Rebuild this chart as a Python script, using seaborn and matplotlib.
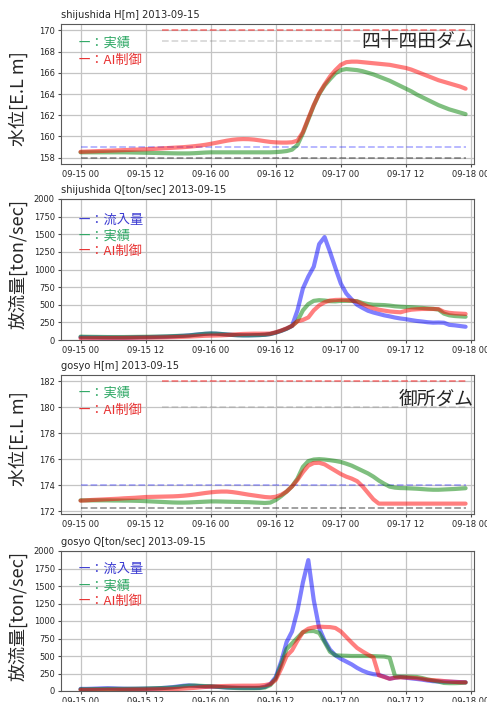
import pandas as pd
import matplotlib
matplotlib.use("Agg")
import matplotlib.pyplot as plt
import matplotlib.dates as mdates
import seaborn as sns

# hourly data, 2013-09-15 00:00 .. 2013-09-17 23:00
times = pd.date_range("2013-09-15 00:00", periods=72, freq="h")

shiju_h_actual = [
    158.50, 158.50, 158.50, 158.50, 158.50, 158.50, 158.50, 158.50, 158.50, 158.49, 158.48, 158.47,
    158.46, 158.45, 158.44, 158.43, 158.42, 158.41, 158.40, 158.40, 158.40, 158.42, 158.45, 158.48,
    158.50, 158.50, 158.50, 158.50, 158.50, 158.50, 158.50, 158.50, 158.50, 158.50, 158.50, 158.50,
    158.52, 158.56, 158.62, 158.75, 159.20, 160.30, 161.60, 162.90, 164.00, 164.80, 165.40, 165.95,
    166.25, 166.35, 166.30, 166.25, 166.15, 166.00, 165.85, 165.65, 165.45, 165.25, 165.00, 164.75,
    164.50, 164.25, 163.95, 163.70, 163.45, 163.20, 162.95, 162.75, 162.55, 162.40, 162.25, 162.10,
]
shiju_h_ai = [
    158.55, 158.57, 158.59, 158.61, 158.63, 158.65, 158.67, 158.69, 158.71, 158.73, 158.75, 158.77,
    158.79, 158.81, 158.84, 158.87, 158.90, 158.93, 158.96, 158.99, 159.03, 159.08, 159.14, 159.21,
    159.30, 159.40, 159.50, 159.60, 159.68, 159.73, 159.75, 159.74, 159.70, 159.63, 159.55, 159.48,
    159.44, 159.42, 159.42, 159.45, 159.60, 160.40, 161.70, 162.95, 164.05, 164.90, 165.65, 166.25,
    166.75, 167.00, 167.05, 167.05, 167.00, 166.95, 166.90, 166.85, 166.80, 166.75, 166.65, 166.55,
    166.45, 166.30, 166.10, 165.90, 165.70, 165.50, 165.30, 165.15, 165.00, 164.85, 164.70, 164.50,
]
shiju_q_inflow = [
    40, 40, 38, 38, 36, 36, 35, 35, 35, 36, 38, 40,
    40, 42, 44, 46, 48, 52, 56, 60, 66, 74, 82, 88,
    92, 90, 85, 78, 72, 68, 66, 66, 68, 70, 74, 85,
    105, 130, 160, 200, 420, 730, 900, 1040, 1360, 1460, 1250, 1020,
    800, 660, 575, 500, 455, 415, 390, 370, 350, 335, 318, 305,
    295, 282, 270, 262, 252, 246, 248, 245, 215, 208, 198, 188,
]
shiju_q_actual = [
    48, 46, 45, 44, 43, 42, 42, 42, 42, 43, 44, 45,
    46, 47, 48, 50, 52, 55, 58, 60, 64, 72, 80, 88,
    92, 90, 84, 78, 72, 68, 66, 66, 68, 70, 74, 85,
    105, 130, 160, 200, 270, 420, 510, 555, 565, 560, 550, 548,
    555, 555, 555, 550, 525, 510, 500, 498, 495, 488, 478, 472,
    468, 465, 460, 455, 448, 442, 432, 375, 350, 340, 335, 330,
]
shiju_q_ai = [
    25, 25, 26, 26, 27, 27, 28, 28, 29, 30, 31, 32,
    33, 34, 35, 36, 38, 40, 42, 45, 48, 52, 56, 60,
    62, 64, 66, 70, 76, 82, 86, 88, 90, 90, 90, 92,
    110, 135, 165, 200, 265, 285, 320, 420, 490, 535, 560, 568,
    570, 568, 560, 545, 510, 474, 450, 430, 417, 405, 398, 393,
    415, 430, 436, 440, 440, 440, 438, 400, 385, 378, 374, 370,
]

gosyo_h_actual = [
    172.82, 172.82, 172.82, 172.82, 172.82, 172.82, 172.81, 172.81, 172.80, 172.80, 172.79, 172.78,
    172.76, 172.74, 172.72, 172.70, 172.68, 172.66, 172.65, 172.65, 172.66, 172.68, 172.70, 172.72,
    172.74, 172.74, 172.73, 172.72, 172.71, 172.70, 172.69, 172.68, 172.66, 172.64, 172.62, 172.65,
    172.85, 173.15, 173.50, 173.90, 174.50, 175.40, 175.85, 175.97, 176.00, 175.97, 175.92, 175.86,
    175.78, 175.65, 175.50, 175.30, 175.10, 174.90, 174.65, 174.35, 174.10, 173.88, 173.80, 173.77,
    173.76, 173.74, 173.72, 173.69, 173.66, 173.64, 173.64, 173.66, 173.68, 173.70, 173.73, 173.76,
]
gosyo_h_ai = [
    172.80, 172.82, 172.85, 172.87, 172.89, 172.91, 172.93, 172.95, 172.98, 173.00, 173.02, 173.05,
    173.08, 173.09, 173.10, 173.11, 173.12, 173.13, 173.15, 173.18, 173.22, 173.27, 173.33, 173.39,
    173.44, 173.48, 173.50, 173.50, 173.46, 173.40, 173.33, 173.26, 173.20, 173.14, 173.08, 173.05,
    173.10, 173.25, 173.50, 173.90, 174.40, 175.00, 175.50, 175.70, 175.72, 175.60, 175.35, 175.10,
    174.85, 174.65, 174.50, 174.30, 173.90, 173.40, 172.90, 172.57, 172.57, 172.57, 172.57, 172.57,
    172.57, 172.57, 172.57, 172.57, 172.57, 172.57, 172.57, 172.57, 172.57, 172.57, 172.57, 172.57,
]
gosyo_q_inflow = [
    30, 30, 32, 35, 38, 40, 38, 35, 33, 32, 32, 33,
    34, 35, 38, 42, 48, 55, 65, 75, 80, 75, 70, 65,
    65, 60, 55, 50, 48, 46, 45, 45, 44, 45, 60, 100,
    200, 420, 700, 850, 1150, 1550, 1870, 1300, 900, 720, 590, 510,
    460, 420, 380, 330, 290, 260, 240, 230, 205, 175, 190, 200,
    190, 180, 172, 162, 150, 140, 136, 134, 132, 130, 127, 124,
]
gosyo_q_actual = [
    25, 25, 26, 27, 28, 30, 30, 30, 30, 31, 32, 33,
    35, 38, 40, 42, 45, 50, 58, 68, 76, 78, 74, 70,
    68, 62, 56, 50, 45, 42, 40, 40, 40, 42, 50, 85,
    180, 380, 600, 680, 760, 840, 855, 857, 830, 700, 560, 510,
    505, 503, 500, 500, 500, 500, 498, 495, 492, 475, 210, 205,
    205, 203, 200, 185, 165, 150, 135, 115, 112, 112, 115, 120,
]
gosyo_q_ai = [
    15, 15, 15, 16, 16, 17, 17, 18, 18, 19, 20, 20,
    21, 22, 23, 24, 25, 27, 30, 35, 40, 45, 52, 58,
    62, 66, 70, 72, 74, 75, 76, 76, 76, 78, 85, 100,
    160, 320, 500, 580, 720, 840, 890, 910, 920, 915, 913, 900,
    850, 770, 690, 615, 565, 520, 480, 225, 200, 175, 190, 195,
    192, 188, 182, 172, 160, 155, 150, 142, 136, 130, 126, 124,
]

# reference levels (dashed) and the hour they start at
shiju_levels = [170, 169, 159, 158]
gosyo_levels = [182, 180, 174, 172.25]
level_start_hours = [15, 15, 0, 0]
level_colors = [("r", 0.45), ("gray", 0.3), ("b", 0.3), ("k", 0.4)]

titles = ["shijushida H[m] 2013-09-15", "shijushida Q[ton/sec] 2013-09-15",
          "gosyo H[m] 2013-09-15", "gosyo Q[ton/sec] 2013-09-15"]
dam_names = ["四十四田ダム", "御所ダム"]

sns.set_style("ticks")
plt.rcParams["font.family"] = ["DejaVu Sans", "Noto Sans CJK JP"]
jp = ["Noto Sans CJK JP", "DejaVu Sans"]

W, H = 487, 702
fig = plt.figure(figsize=(W / 100, H / 100), dpi=100)
boxes = [(24, 164), (199, 340), (375, 514), (551, 691)]
axes = [fig.add_axes([61 / W, 1 - b / H, (474 - 61) / W, (b - t) / H]) for t, b in boxes]

t0 = times[0]
line_kw = dict(alpha=0.5, linewidth=3, legend=False)


def draw_levels(ax, levels):
    for lv, h0, (c, a) in zip(levels, level_start_hours, level_colors):
        ax.hlines(lv, times[h0], times[-1], colors=c, alpha=a, linestyles="--", lw=1.3)


def legend_text(ax, items, ys):
    for (label, color), y in zip(items, ys):
        ax.text(0.041, y, "ー：" + label, color=color, transform=ax.transAxes,
                fontsize=9.5, family=jp, va="center", ha="left")


def finish(ax, title, ylabel, label_y):
    ax.set_title(title, loc="left", fontsize=7.1, pad=4)
    ax.set_xlabel("")
    ax.set_ylabel(ylabel, fontsize=13, family=jp)
    ax.yaxis.set_label_coords(-0.08, label_y)
    ax.set_xlim(t0 - pd.Timedelta(hours=3.6), t0 + pd.Timedelta(hours=72.55))
    ax.xaxis.set_major_locator(mdates.HourLocator(byhour=[0, 12]))
    ax.xaxis.set_major_formatter(mdates.DateFormatter("%m-%d %H"))
    ax.tick_params(labelsize=6, length=2.5, pad=2, color="0.3")
    ax.grid(True, color="#c4c4c4", lw=0.9)
    for s in ax.spines.values():
        s.set_color("0.35")


c_in, c_act, c_ai = "#3c3cd2", "#2ea864", "#e83030"

# shijushida level
ax = axes[0]
draw_levels(ax, shiju_levels)
sns.lineplot(x=times, y=shiju_h_actual, color="g", ax=ax, **line_kw)
sns.lineplot(x=times, y=shiju_h_ai, color="r", ax=ax, **line_kw)
ax.set_ylim(157.4, 170.6)
ax.set_yticks(range(158, 171, 2))
legend_text(ax, [("実績", c_act), ("AI制御", c_ai)], [0.864, 0.736])
ax.text(1.0, 0.875, dam_names[0], transform=ax.transAxes, fontsize=13.5,
        family=jp, ha="right", va="center")
finish(ax, titles[0], "水位[E.L m]", 0.47)

# shijushida discharge
ax = axes[1]
sns.lineplot(x=times, y=shiju_q_inflow, color="b", ax=ax, **line_kw)
sns.lineplot(x=times, y=shiju_q_actual, color="g", ax=ax, **line_kw)
sns.lineplot(x=times, y=shiju_q_ai, color="r", ax=ax, **line_kw)
ax.set_ylim(0, 2000)
ax.set_yticks(range(0, 2001, 250))
legend_text(ax, [("流入量", c_in), ("実績", c_act), ("AI制御", c_ai)], [0.851, 0.738, 0.626])
finish(ax, titles[1], "放流量[ton/sec]", 0.54)

# gosyo level
ax = axes[2]
draw_levels(ax, gosyo_levels)
sns.lineplot(x=times, y=gosyo_h_actual, color="g", ax=ax, **line_kw)
sns.lineplot(x=times, y=gosyo_h_ai, color="r", ax=ax, **line_kw)
ax.set_ylim(171.77, 182.49)
ax.set_yticks(range(172, 183, 2))
legend_text(ax, [("実績", c_act), ("AI制御", c_ai)], [0.868, 0.748])
ax.text(1.0, 0.827, dam_names[1], transform=ax.transAxes, fontsize=13.5,
        family=jp, ha="right", va="center")
finish(ax, titles[2], "水位[E.L m]", 0.54)

# gosyo discharge
ax = axes[3]
sns.lineplot(x=times, y=gosyo_q_inflow, color="b", ax=ax, **line_kw)
sns.lineplot(x=times, y=gosyo_q_actual, color="g", ax=ax, **line_kw)
sns.lineplot(x=times, y=gosyo_q_ai, color="r", ax=ax, **line_kw)
ax.set_ylim(0, 2000)
ax.set_yticks(range(0, 2001, 250))
legend_text(ax, [("流入量", c_in), ("実績", c_act), ("AI制御", c_ai)], [0.869, 0.75, 0.638])
finish(ax, titles[3], "放流量[ton/sec]", 0.537)

fig.savefig("out.png", dpi=100)
